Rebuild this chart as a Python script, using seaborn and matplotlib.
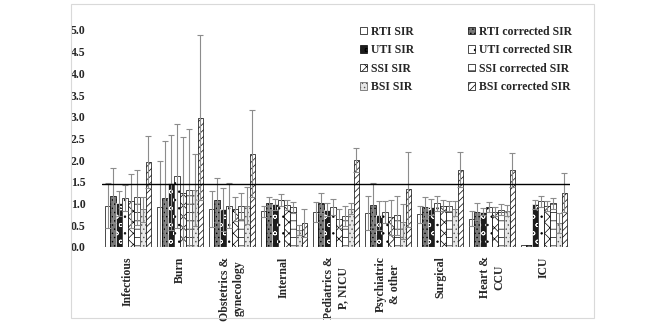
import numpy as np
import pandas as pd
import matplotlib
matplotlib.use("Agg")
import matplotlib.pyplot as plt
import matplotlib.patches as mpatches
import seaborn as sns

# wards (x categories)
wards = ["Infectious", "Burn", "Obstetrics &\ngynecology", "Internal",
         "Pediatrics &\nP, NICU", "Psychiatric\n& other", "Surgical",
         "Heart &\nCCU", "ICU"]

series_names = ["RTI SIR", "RTI corrected SIR", "UTI SIR", "UTI corrected SIR",
                "SSI SIR", "SSI corrected SIR", "BSI SIR", "BSI corrected SIR"]

# SIR values
rti_sir = [0.95, 0.91, 0.87, 0.82, 0.80, 0.78, 0.75, 0.65, 0.03]
rti_corr = [1.18, 1.12, 1.07, 1.00, 1.00, 0.97, 0.91, 0.81, 0.04]
uti_sir = [1.00, 1.48, 0.86, 0.98, 0.85, 0.72, 0.91, 0.81, 0.98]
uti_corr = [1.12, 1.63, 0.95, 1.08, 0.91, 0.80, 1.00, 0.91, 1.05]
ssi_sir = [1.05, 1.23, 0.87, 0.96, 0.65, 0.68, 0.95, 0.81, 0.94]
ssi_corr = [1.14, 1.31, 0.95, 0.91, 0.71, 0.72, 0.94, 0.85, 1.00]
bsi_sir = [0.86, 1.31, 0.95, 0.38, 0.88, 0.58, 0.88, 0.83, 0.54]
bsi_corr = [1.96, 2.98, 2.15, 0.54, 2.00, 1.32, 1.78, 1.77, 1.25]

# upper confidence limits (error bar caps)
rti_sir_hi = [1.46, 1.97, 1.28, 0.95, 1.02, 1.18, 0.95, 0.83, 0.03]
rti_corr_hi = [1.82, 2.43, 1.58, 1.15, 1.23, 1.48, 1.15, 1.00, 0.04]
uti_sir_hi = [1.29, 2.57, 1.36, 1.11, 1.00, 1.05, 1.09, 0.90, 1.08]
uti_corr_hi = [1.42, 2.83, 1.48, 1.22, 1.09, 1.05, 1.18, 1.02, 1.18]
ssi_sir_hi = [1.67, 2.52, 1.15, 1.08, 0.86, 1.08, 1.08, 0.92, 1.05]
ssi_corr_hi = [1.78, 2.71, 1.25, 1.04, 0.94, 1.16, 1.05, 0.98, 1.13]
bsi_sir_hi = [1.14, 2.14, 1.38, 0.50, 1.00, 0.98, 1.05, 0.96, 0.77]
bsi_corr_hi = [2.56, 4.88, 3.15, 0.86, 2.28, 2.19, 2.19, 2.17, 1.69]

ref_line = 1.45
y_ticks = [0.0, 0.5, 1.0, 1.5, 2.0, 2.5, 3.0, 3.5, 4.0, 4.5, 5.0]

values = [rti_sir, rti_corr, uti_sir, uti_corr, ssi_sir, ssi_corr, bsi_sir, bsi_corr]
uppers = [rti_sir_hi, rti_corr_hi, uti_sir_hi, uti_corr_hi,
          ssi_sir_hi, ssi_corr_hi, bsi_sir_hi, bsi_corr_hi]

rows = []
for name, vals, his in zip(series_names, values, uppers):
    for w, v, h in zip(wards, vals, his):
        rows.append({"ward": w, "series": name, "sir": v, "err": h - v})
df = pd.DataFrame(rows)

# fill / hatch per series
faces = ["white", "#7a7a7a", "#1c1c1c", "white", "white", "white", "#e6e6e6", "white"]
edges = ["black", "black", "white", "black", "black", "black", "#555555", "black"]
hatches = ["", "....", "oo", "..", "xxx", "--", "....", "/////"]

sns.set_style("white")
plt.rcParams["font.family"] = ["Liberation Serif", "DejaVu Serif"]
plt.rcParams["font.weight"] = "bold"
plt.rcParams["hatch.linewidth"] = 0.5

fig = plt.figure(figsize=(6.66, 3.22), dpi=100)
ax = fig.add_axes([102 / 666, 1 - 246.7 / 322, 468 / 666, 216.7 / 322])

sns.barplot(data=df, x="ward", y="sir", hue="series", hue_order=series_names,
            order=wards, palette=faces, width=0.9, errorbar=None,
            edgecolor="black", linewidth=0.5, legend=False, ax=ax)

bar_groups = list(ax.containers)
for i, cont in enumerate(bar_groups):
    sub = df[df["series"] == series_names[i]].set_index("ward").loc[wards]
    xs, hs = [], []
    for bar in cont:
        bar.set_facecolor(faces[i])
        bar.set_edgecolor(edges[i])
        bar.set_hatch(hatches[i])
        xs.append(bar.get_x() + bar.get_width() / 2)
        hs.append(bar.get_height())
    errs = sub["err"].values
    mask = errs > 0
    ax.errorbar(np.array(xs)[mask], np.array(hs)[mask], yerr=errs[mask],
                fmt="none", ecolor="#8c8c8c", elinewidth=0.8, capsize=2,
                capthick=0.8, zorder=3)

ax.axhline(ref_line, color="black", linewidth=1.0, zorder=4)
ax.axhline(0, color="#bfbfbf", linewidth=0.8, zorder=4)

ax.set_ylim(0, 5.0)
ax.set_xlim(-0.5, len(wards) - 0.5)
ax.set_yticks(y_ticks)
ax.set_yticklabels([f"{t:.1f}" for t in y_ticks], fontsize=8.5, fontweight="bold")
ax.set_xticks(range(len(wards)))
ax.set_xticklabels(wards, rotation=90, fontsize=8.5, fontweight="bold",
                   ha="center", va="top", multialignment="center")
ax.tick_params(axis="both", length=0)
ax.tick_params(axis="y", pad=12)
ax.tick_params(axis="x", pad=7)
ax.set_xlabel("")
ax.set_ylabel("")
for s in ax.spines.values():
    s.set_visible(False)

# legend, two columns read row-wise
handles = []
for i in range(len(series_names)):
    handles.append(mpatches.Patch(facecolor=faces[i], edgecolor=edges[i] if edges[i] != "white" else "black",
                                  hatch=hatches[i], linewidth=0.5, label=series_names[i]))
order = [0, 2, 4, 6, 1, 3, 5, 7]
fig.legend([handles[k] for k in order], [series_names[k] for k in order],
           loc="upper left", bbox_to_anchor=(354 / 666, 1 - 20 / 322),
           ncol=2, frameon=False, handlelength=0.6,
           handleheight=0.6, handletextpad=0.3, labelspacing=0.55,
           columnspacing=4.6, borderpad=0, prop={"weight": "bold", "size": 8.5})

# outer chart frame
fig.patches.append(mpatches.Rectangle((71 / 666, 1 - 318 / 322), 523 / 666, 314 / 322,
                                      transform=fig.transFigure, fill=False,
                                      edgecolor="#d9d9d9", linewidth=0.8))

fig.savefig("out.png", dpi=100)
